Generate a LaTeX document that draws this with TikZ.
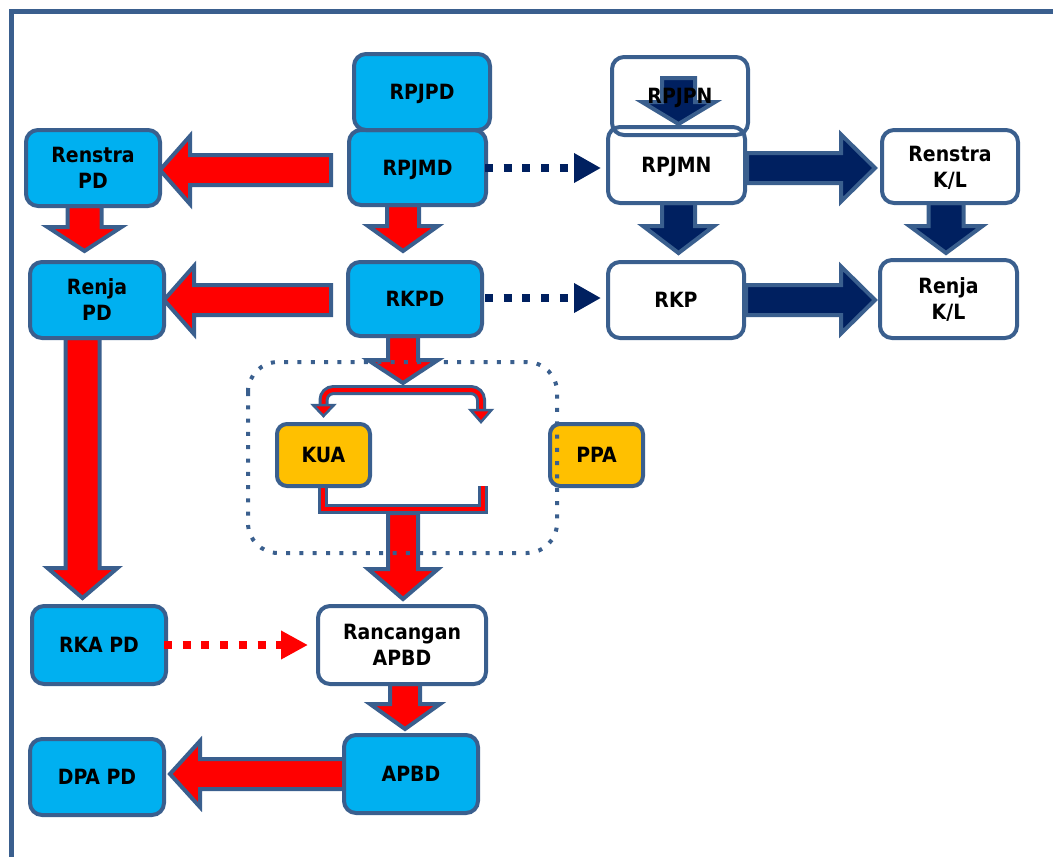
\documentclass[tikz,border=0pt]{standalone}
\usepackage{fontspec}
\setmainfont{DejaVu Sans Condensed}
\usetikzlibrary{calc,arrows.meta}
\pgfdeclarelayer{back}
\pgfsetlayers{back,main}
\definecolor{edge}{HTML}{3A5F8E}
\definecolor{sky}{HTML}{00B0F0}
\definecolor{navy}{HTML}{002060}
\definecolor{gold}{HTML}{FFC000}
\definecolor{alarm}{HTML}{FF0000}

% block arrow: #1 style, #2 tail, #3 tip, #4 shaft half width, #5 head half width, #6 head length
\newcommand\blockarrow[6]{%
  \draw[#1] ($(#2)!#4!90:(#3)$)
    -- ($(#3)!#6!(#2)!#4!90:(#3)$)
    -- ($(#3)!#6!(#2)!#5!90:(#3)$)
    -- (#3)
    -- ($(#3)!#6!(#2)!#5!-90:(#3)$)
    -- ($(#3)!#6!(#2)!#4!-90:(#3)$)
    -- ($(#2)!#4!-90:(#3)$) -- cycle;}

\tikzset{
  box/.style={draw=edge, line width=4pt, rounded corners=12pt, inner sep=0pt,
    align=center, text=black, text depth=-3pt,
    font=\bfseries\fontsize{21}{26}\selectfont},
  sz/.style 2 args={minimum width=#1pt, minimum height=#2pt},
  bluebox/.style={box, fill=sky},
  whitebox/.style={box, fill=white},
  goldbox/.style={box, fill=gold, rounded corners=10pt},
  redblock/.style={fill=alarm, draw=edge, line width=4pt, line join=miter},
  navyblock/.style={fill=navy, draw=edge, line width=4pt, line join=miter},
  reddots/.style={draw=alarm, line width=8pt, dash pattern=on 8pt off 10.7pt,
    -{Triangle[length=27pt,width=27pt]}},
  navydots/.style={draw=navy, line width=8pt, dash pattern=on 8pt off 10.7pt,
    -{Triangle[length=27pt,width=28pt]}},
  loopouter/.style={draw=edge, line width=10pt},
  loopinner/.style={draw=alarm, line width=4pt},
  loophead/.style={fill=alarm, draw=edge, line width=2.5pt, line join=miter},
  grouprect/.style={draw=edge, line width=4pt, dash pattern=on 4pt off 9.3pt,
    rounded corners=30pt},
  frame/.style={draw=edge, line width=5pt}
}

\begin{document}
\begin{tikzpicture}[x=1pt, y=-1pt]
\useasboundingbox (0,0) rectangle (1053,857);
\clip (0,0) rectangle (1053,857);

% outer frame
\draw[frame] (11,11) rectangle (1100,900);

% regional planning documents
\node[bluebox, sz={134}{76}] (renstrapd) at (93,168) {Renstra\\PD};
\node[bluebox, sz={134}{76}] (renjapd) at (97,300) {Renja\\PD};
\node[bluebox, sz={134}{78}] (rkapd) at (99,645) {RKA PD};
\node[bluebox, sz={134}{76}] (dpapd) at (97,777) {DPA PD};
\node[bluebox, sz={137}{75}] (rpjmd) at (417.5,167.5) {RPJMD};
\node[bluebox, sz={136}{76}] (rpjpd) at (422,92) {RPJPD};
\node[bluebox, sz={134}{74}] (rkpd) at (415,299) {RKPD};
\node[whitebox, sz={168}{78}] (rancangan) at (402,645) {Rancangan\\APBD};
\node[bluebox, sz={134}{78}] (apbd) at (411,774) {APBD};

% national planning documents
\node[whitebox, sz={137}{76}] (rpjmn) at (676.5,165) {RPJMN};
\node[box, sz={136}{78}] (rpjpn) at (680,96) {RPJPN};
\node[whitebox, sz={136}{76}] (rkp) at (676,300) {RKP};
\node[whitebox, sz={136}{73}] (renstrakl) at (950,166.5) {Renstra\\K/L};
\node[whitebox, sz={137}{78}] (renjakl) at (948.5,299) {Renja\\K/L};

% budget policy
\node[goldbox, sz={93}{62}] (kua) at (323.5,455) {KUA};
\node[goldbox, sz={93}{62}] (ppa) at (596.5,455) {PPA};

% junction points of the KUA/PPA loop
\coordinate (ujoin) at (403,390);
\coordinate (bjoin) at (403,509);
\coordinate (ul) at ($(kua.north)+(0,-16)$);
\coordinate (ur) at (481,410);
\coordinate (bl) at ($(kua.south)+(-1,0)$);
\coordinate (br) at (483,486);

\begin{pgfonlayer}{back}
  % red block arrows
  \coordinate (a1t) at ($(rpjmd.west)+(-16,2.5)$);
  \coordinate (a1h) at ($(renstrapd.east)+(-2,2)$);
  \blockarrow{redblock}{a1t}{a1h}{15pt}{34pt}{30pt}
  \coordinate (a2t) at ($(rkpd.west)+(-15,1)$);
  \coordinate (a2h) at ($(renjapd.east)+(-2,0)$);
  \blockarrow{redblock}{a2t}{a2h}{15pt}{34pt}{30pt}
  \coordinate (a3t) at ($(apbd.west)+(6,0)$);
  \coordinate (a3h) at ($(dpapd.east)+(4,-3)$);
  \blockarrow{redblock}{a3t}{a3h}{15pt}{33pt}{30pt}
  \coordinate (a4t) at ($(renstrapd.south)+(-8.5,-2)$);
  \coordinate (a4h) at ($(renjapd.north)+(-12.5,-9)$);
  \blockarrow{redblock}{a4t}{a4h}{17pt}{37pt}{24pt}
  \coordinate (a5t) at ($(renjapd.south)+(-14.5,-2)$);
  \coordinate (a5h) at ($(rkapd.north)+(-16.5,-6)$);
  \blockarrow{redblock}{a5t}{a5h}{17pt}{35pt}{30pt}
  \coordinate (a6t) at ($(rpjmd.south)+(-14.5,-2)$);
  \coordinate (a6h) at ($(rkpd.north)+(-12,-9)$);
  \blockarrow{redblock}{a6t}{a6h}{16pt}{35pt}{25pt}
  \coordinate (a7t) at ($(rkpd.south)+(-12,-2)$);
  \coordinate (a7h) at ($(ujoin)+(0,-7)$);
  \blockarrow{redblock}{a7t}{a7h}{15pt}{35pt}{23pt}
  \coordinate (a8t) at ($(bjoin)+(0,4)$);
  \coordinate (a8h) at ($(rancangan.north)+(1,-5)$);
  \blockarrow{redblock}{a8t}{a8h}{15pt}{35pt}{30pt}
  \coordinate (a9t) at ($(rancangan.south)+(3,-2)$);
  \coordinate (a9h) at ($(apbd.north)+(-6,-4)$);
  \blockarrow{redblock}{a9t}{a9h}{15pt}{35pt}{25pt}
  % navy block arrows
  \coordinate (b1t) at ($(rpjmn.east)+(0,3)$);
  \coordinate (b1h) at ($(renstrakl.west)+(-5,1.5)$);
  \blockarrow{navyblock}{b1t}{b1h}{15pt}{33.5pt}{34pt}
  \coordinate (b2t) at (rkp.east);
  \coordinate (b2h) at ($(renjakl.west)+(-3,1)$);
  \blockarrow{navyblock}{b2t}{b2h}{15pt}{33.5pt}{34pt}
  \coordinate (b3t) at ($(rpjmn.south)+(2,-2)$);
  \coordinate (b3h) at ($(rkp.north)+(2.5,-7)$);
  \blockarrow{navyblock}{b3t}{b3h}{16.5pt}{35.5pt}{27pt}
  \coordinate (b4t) at ($(renstrakl.south)+(-4,-2)$);
  \coordinate (b4h) at ($(renjakl.north)+(-2.5,-5)$);
  \blockarrow{navyblock}{b4t}{b4h}{17.5pt}{36.5pt}{27pt}
  \coordinate (b5t) at ($(rpjpn.north)+(-1.5,23)$);
  \coordinate (b5h) at ($(rpjpn.south)+(-1.5,-13)$);
  \blockarrow{navyblock}{b5t}{b5h}{16.5pt}{36.5pt}{22pt}
\end{pgfonlayer}

% dotted links
\draw[navydots] ($(rpjmd.east)+(-3,0.5)$) -- ($(rpjmn.west)+(-5,3)$);
\draw[navydots] ($(rkpd.east)+(1,-1)$) -- ($(rkp.west)+(-5,-2)$);
\draw[reddots] ($(rkapd.east)+(-4,0)$) -- ($(rancangan.west)+(-8,0)$);

% KUA / PPA loop
\draw[loopouter, rounded corners=10pt] (ul) |- (ujoin) -| (ur);
\draw[loopinner, rounded corners=10pt] (ul) |- (ujoin) -| (ur);
\draw[loophead] ($(ul)+(-10.5,-1)$) -- ($(ul)+(10.5,-1)$) -- ($(ul)+(0,10)$) -- cycle;
\draw[loophead] ($(ur)+(-10.5,0)$) -- ($(ur)+(10.5,0)$) -- ($(ur)+(0,12)$) -- cycle;
\draw[loopouter, line join=miter] (bl) |- (bjoin) -| (br);
\draw[loopinner, line join=miter] (bl) |- (bjoin) -| (br);

% budget policy group
\draw[grouprect] (248,362) rectangle (557,553);
\end{tikzpicture}
\end{document}
